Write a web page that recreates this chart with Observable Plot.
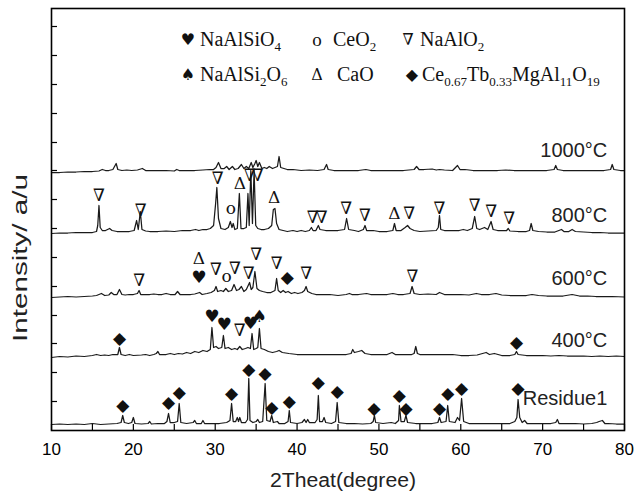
<!DOCTYPE html>
<html><head><meta charset="utf-8">
<script src="https://cdn.jsdelivr.net/npm/d3@7"></script>
<script src="https://cdn.jsdelivr.net/npm/@observablehq/plot@0.6"></script>
<style>body{margin:0;background:#fff}</style>
</head><body><div id="chart"></div>
<script>
// ---------- data (2θ in degrees, intensity above each trace's own baseline, a.u.) ----------
const seriesNames = ["Residue1", "400°C", "600°C", "800°C", "1000°C"];
const offsets = [5, 73, 133, 197, 258];          // vertical stacking offsets (a.u.)
const labelX = 77.9;
const labelH = [27, 17, 19, 18, 22];              // label heights above baseline

const residue = [[10,1],[11,1.5],[12,1],[13,1.5],[14,1],[15,2],[16,1],[17,1.5],[18,2],[18.5,3],[18.7,10],[18.9,3],[19.4,2],[19.8,3],[20.0,8],[20.2,2],[21,1.5],[21.8,2],[22.0,4],[22.2,1.5],[23,2],[23.8,2],[24.1,4],[24.3,12],[24.5,3],[25.0,3],[25.4,4],[25.6,22],[25.8,3],[26.5,2],[27.3,3],[27.5,5],[27.7,2],[28.3,2],[28.5,5],[28.7,2],[29.5,2],[30.5,2],[31.4,3],[31.8,5],[32.0,22],[32.2,4],[32.5,4],[32.7,8],[32.85,4],[33.0,8],[33.2,3],[33.7,3],[33.95,6],[34.1,47],[34.25,5],[34.6,3],[35.0,4],[35.2,6],[35.4,3],[35.8,4],[36.1,42],[36.3,5],[36.7,4],[36.9,10],[37.1,3],[37.6,4],[37.8,2],[38.5,2],[38.9,4],[39.05,15],[39.2,3],[40,2],[40.6,3],[40.9,6],[41.1,3],[41.3,6],[41.5,3],[42.2,3],[42.45,6],[42.6,30],[42.75,4],[43.1,4],[43.3,8],[43.5,3],[44.2,2],[44.7,4],[44.9,23],[45.1,3],[46,2],[47,2],[48,1.5],[49,2],[49.3,4],[49.45,10],[49.6,3],[50.5,2],[51.5,3],[52,2],[52.4,5],[52.5,20],[52.7,4],[53.1,4],[53.3,10],[53.5,3],[54.5,2],[55.5,2],[56.5,2],[57.2,3],[57.4,8],[57.6,3],[58.2,4],[58.4,20],[58.6,4],[59.3,3],[59.6,8],[59.85,5],[60.1,27],[60.35,4],[61,2],[62,2],[63,2],[64,2],[65,2],[66,2],[66.6,4],[66.85,8],[67.0,26],[67.2,8],[67.5,3],[67.8,5],[68.1,2],[69,2],[70,2],[71,2],[71.6,3],[71.8,6],[72.0,2],[73,2],[74,2],[75,1.5],[76,2],[76.6,3],[76.9,4],[77.3,5],[77.6,2],[78,2],[79,1.5],[80,1.5]];

const t400 = [[10,0],[11,1],[12,0.5],[13,1.5],[14,1],[15,2],[15.5,3],[16,2],[16.5,2.5],[17,2],[17.5,3],[18.1,3],[18.3,10],[18.5,3],[19,2],[19.5,3],[20,2],[21,2.5],[21.5,3],[22,2],[22.5,3],[22.8,4],[23.0,6],[23.2,3],[24,3],[24.5,4],[25,3],[25.5,4],[26,3.5],[26.5,5],[27,4],[27.5,6],[28,5],[28.5,7],[29,6],[29.4,8],[29.6,30],[29.8,10],[30.1,11],[30.4,9],[30.8,10],[31.0,22],[31.2,9],[31.6,10],[32,8],[32.4,9],[32.7,8],[33.0,11],[33.3,8],[33.7,9],[34.0,10],[34.3,9],[34.5,24],[34.7,8],[35.0,9],[35.2,10],[35.4,29],[35.6,9],[36,8],[36.5,6],[37,5],[37.5,6],[37.8,7],[38.2,5],[39,4],[40,3],[41,3],[42,3],[43,3],[44,3],[45,3],[46,3],[46.6,4],[46.8,8],[47.0,5],[47.5,6],[47.9,7],[48.3,4],[49,3],[50,3],[51,3],[51.6,5],[52,3],[53,3],[54,3],[54.3,4],[54.5,11],[54.7,4],[55,3],[56,3],[57,3],[58,3],[59,3],[60,2],[61,2],[62,2.5],[63.1,5],[63.5,3],[64.1,4],[65,2],[66,2],[66.6,3],[66.8,6],[67.0,3],[68,2],[69,2],[70,2],[71,1.5],[72,2],[73,1.5],[74,1.5],[75,1.5],[76,1],[77,1.5],[78,1],[79,1.5],[80,1]];

const t600 = [[10,0],[11,0.5],[12,1],[13,0.5],[14,1],[15,1.5],[15.5,2],[16.1,4],[16.5,2],[17,2.5],[17.3,5],[17.6,3],[18.0,3],[18.3,8],[18.6,3],[19,2.5],[19.5,3],[20,3],[20.5,4],[20.7,7],[20.9,3],[21.5,3],[22,3],[22.5,3.5],[23,3],[23.5,3],[24,4],[24.5,3],[25.1,3],[25.4,6],[25.7,3],[26,3],[26.5,3],[27,3],[27.5,3.5],[28.1,5],[28.4,3],[29,4],[29.5,5],[29.9,7],[30.1,11],[30.3,6],[30.7,7],[31.0,6],[31.3,9],[31.6,6],[32.0,7],[32.3,13],[32.6,7],[32.9,8],[33.2,11],[33.5,6],[33.8,8],[34.2,15],[34.4,8],[34.6,10],[34.85,26],[35.1,9],[35.4,7],[35.8,6],[36.3,5],[36.8,5],[37.3,7],[37.5,19],[37.7,7],[38.0,5],[38.3,7],[38.6,5],[38.9,6],[39.3,4],[39.7,5],[40.1,4],[40.6,5],[40.9,7],[41.1,11],[41.3,6],[41.8,4],[42.3,3],[43,3],[44,3],[45,2],[46,3],[46.4,4],[46.7,3],[47.5,3],[48.5,4],[49,3],[50,3],[51,3],[51.7,4],[52.3,3],[53,3],[53.8,4],[54.05,11],[54.3,4],[55,3],[56,3.5],[57,3],[57.4,5],[58,3],[59,3],[60,3],[61,2.5],[61.9,4],[62.5,3],[63.5,3],[64.3,4],[65,2.5],[66,2],[67,2],[68,2],[68.7,3],[69.5,2],[70.5,1.5],[71.5,1.5],[72.5,1.5],[73.6,3],[74.5,1.5],[75.5,1.5],[76.5,1],[77.5,1],[78.5,1],[80,0.5]];

const t800 = [[10,0],[11,0.5],[12,0.5],[13,1],[14,1],[15,1],[15.5,2],[15.65,8],[15.8,28],[15.95,6],[16.2,3],[16.6,3],[17.1,5],[17.4,3],[18,2],[19,2],[19.5,2],[20.1,3],[20.4,13],[20.6,4],[20.85,22],[21.05,4],[21.5,2.5],[22,2],[23,2],[24,2.5],[25,2],[26,3],[27,3],[27.6,4],[28,3],[28.5,4],[29,4],[29.4,5],[29.8,8],[30.05,30],[30.2,46],[30.4,15],[30.7,5],[31.2,4],[31.6,6],[31.85,12],[32.05,6],[32.2,10],[32.4,4],[32.7,5],[32.95,40],[33.15,5],[33.5,5],[33.8,6],[34.0,40],[34.15,8],[34.35,63],[34.55,10],[34.75,63],[34.95,8],[35.2,5],[35.6,4],[36,4],[36.5,5],[36.9,8],[37.1,24],[37.3,25],[37.5,10],[37.8,4],[38.3,3],[38.8,2],[39.5,3],[40,2],[40.5,3],[41,2],[41.5,3],[41.75,6],[41.95,3],[42.3,3],[42.6,8],[42.8,4],[43.5,3],[44,3],[45,3],[45.8,4],[46.05,15],[46.3,4],[47,3],[47.5,2],[48.1,4],[48.3,8],[48.5,3],[49.3,3],[50,2],[51,2],[51.7,3],[51.9,10],[52.1,3],[52.7,3],[53.2,6],[53.5,8],[53.8,5],[54.3,3],[55,2],[56,2.5],[57,3],[57.25,6],[57.4,18],[57.55,4],[58,3],[59,3],[59.8,3],[60.3,4],[60.8,3],[61.4,5],[61.7,17],[61.95,5],[62.3,4],[62.9,6],[63.3,4],[63.7,12],[63.95,4],[64.5,3],[65,3],[65.6,3],[65.8,5],[66,2.5],[67,2],[68,2],[68.4,3],[68.6,10],[68.8,3],[69.5,2],[70.5,1.5],[71.5,1.5],[72.3,4],[72.6,2],[73.2,2],[73.6,4],[74,2],[75,1.5],[76,1],[77,1],[78,0.5],[79,0.5],[80,0.5]];

const t1000 = [[10,0],[11,0],[12,0.5],[13,0.5],[14,1],[15,1],[15.8,1.5],[16.2,3],[16.6,2],[17,2],[17.5,3],[17.9,9],[18.1,3],[18.6,2],[19.2,2.5],[19.8,2],[20.5,2.5],[21.1,4],[21.5,2],[22,2],[23,2],[24,2],[25,1.5],[25.3,3],[25.6,2],[26.5,2],[27.5,2],[28.5,2.5],[29.3,3],[29.8,3],[30.1,5],[30.4,10],[30.7,4],[31.1,4],[31.4,6],[31.7,3],[32.1,6],[32.4,3],[32.8,4],[33.2,8],[33.5,4],[33.8,6],[34.1,4],[34.4,10],[34.6,5],[34.85,9],[35.0,12],[35.2,6],[35.4,10],[35.7,4],[36.0,5],[36.3,4],[36.6,6],[37.0,4],[37.3,5],[37.6,6],[37.8,16],[38.0,5],[38.4,4],[38.8,3],[39.5,3],[40.5,2],[41.5,2.5],[42.5,2],[43.3,3],[43.6,8],[43.8,3],[44.5,2],[45.5,2],[46.5,2],[47.5,2],[48.4,3],[49,2],[50,2],[51,2],[52,2],[53,2],[54.3,3],[54.6,6],[54.9,3],[55.5,3],[56.5,3.5],[57,2.5],[57.4,3],[58,2.5],[59,2],[59.6,7],[59.9,3],[60.5,3],[61.5,2],[62.5,2],[63.5,2],[64.5,2],[65.5,2.5],[66.5,2],[67.5,2],[68.5,2],[69.5,2],[70.5,2],[71.4,3],[71.6,7],[71.8,3],[72.5,2],[73.5,2],[74.5,2],[75.5,2],[76.5,2],[77.5,2],[78.3,3],[78.5,8],[78.7,3],[79.5,2],[80,2]];

const traces = [residue, t400, t600, t800, t1000];

// phase markers: [series index, 2θ, height above baseline, symbol]
const markers = [
 [0,18.7,20,"◆"],[0,24.3,23,"◆"],[0,25.6,33,"◆"],[0,32.0,32,"◆"],[0,34.1,56,"◆"],[0,36.1,52,"◆"],[0,36.9,18,"◆"],[0,39.05,24,"◆"],[0,42.6,43,"◆"],[0,44.9,34,"◆"],[0,49.4,17,"◆"],[0,52.5,30,"◆"],[0,53.3,17,"◆"],[0,57.4,17,"◆"],[0,58.4,32,"◆"],[0,60.1,37,"◆"],[0,67.0,37,"◆"],
 [1,18.3,19,"◆"],[1,29.6,41,"♥"],[1,31.1,33,"♥"],[1,33.0,27,"∇"],[1,34.3,34,"♥"],[1,35.4,41,"♠"],[1,66.8,15,"◆"],
 [2,20.7,17,"∇"],[2,28.0,39,"Δ"],[2,28.0,20,"♥"],[2,30.1,28,"∇"],[2,31.4,21,"o"],[2,32.4,29,"∇"],[2,34.1,24,"∇"],[2,35.0,43,"∇"],[2,37.5,34,"∇"],[2,38.8,20,"◆"],[2,41.1,24,"∇"],[2,54.1,21,"∇"],
 [3,15.8,38,"∇"],[3,20.9,23,"∇"],[3,30.3,55,"∇"],[3,31.9,25,"o"],[3,33.0,50,"Δ"],[3,34.2,58,"∇"],[3,35.2,58,"∇"],[3,37.2,36,"Δ"],[3,41.9,16,"∇"],[3,43.0,16,"∇"],[3,46.0,25,"∇"],[3,48.3,18,"∇"],[3,51.9,20,"Δ"],[3,53.7,20,"∇"],[3,57.4,25,"∇"],[3,61.7,28,"∇"],[3,63.7,22,"∇"],[3,65.9,15,"∇"]
];

// legend: symbol + formula segments ([text, isSubscript])
const legendSymbols = ["♥","o","∇","♠","Δ","◆"];
const legendFormulas = [
 [["NaAlSiO",0],["4",1]],
 [["CeO",0],["2",1]],
 [["NaAlO",0],["2",1]],
 [["NaAlSi",0],["2",1],["O",0],["6",1]],
 [["CaO",0]],
 [["Ce",0],["0.67",1],["Tb",0],["0.33",1],["MgAl",0],["11",1],["O",0],["19",1]]
];

const xTickValues = [10,15,20,25,30,35,40,45,50,55,60,65,70,75,80];
const xTickLabels = [10,20,30,40,50,60,70,80];
const yTickValues = [29,58,87,115,144,173,202,231,260,288,317,346,375,404];

const xLabel = "2Theat(degree)";
const yLabel = "Intensity/ a/u";

// ---------- build ----------
const rows = [];
traces.forEach((tr, i) => tr.forEach(([x, h]) => rows.push({series: seriesNames[i], x, y: h + offsets[i]})));
const markerRows = markers.map(([i, x, h, s]) => ({x, y: h + offsets[i], s}));
const labelRows = seriesNames.map((s, i) => ({s, x: labelX, y: labelH[i] + offsets[i]}));

const SANS = "'Liberation Sans', Arial, sans-serif";
const plot = Plot.plot({
  width: 635, height: 492,
  marginLeft: 51, marginRight: 11, marginTop: 8, marginBottom: 62,
  x: {domain: [10, 80], label: null},
  y: {domain: [0, 422], label: null},
  style: {fontFamily: SANS, fontSize: "17px", color: "#000", background: "#fff", overflow: "visible"},
  marks: [
    Plot.line(rows, {x: "x", y: "y", z: "series", stroke: "#1a1a1a", strokeWidth: 1.25}),
    Plot.text(markerRows, {x: "x", y: "y", text: "s", fontSize: 17, fontFamily: "'DejaVu Serif', serif", fill: "#111"}),
    Plot.text(labelRows, {x: "x", y: "y", text: "s", textAnchor: "end", fontSize: 20, fill: "#222"}),
    Plot.axisX({ticks: xTickValues, tickSize: -6, tickFormat: () => "", label: null, strokeWidth: 1.2}),
    Plot.axisX({ticks: xTickLabels, tickSize: 0, tickPadding: 12, label: null, fontSize: 17}),
    Plot.axisY({ticks: yTickValues, tickSize: -6, tickFormat: () => "", label: null, strokeWidth: 1.2}),
    Plot.frame({stroke: "#000", strokeWidth: 1.6})
  ]
});
document.getElementById("chart").appendChild(plot);

// ---------- titles & legend ----------
const svg = d3.select(plot);
svg.append("text").attr("transform", "translate(27,258) rotate(-90)").attr("text-anchor", "middle")
  .attr("font-size", 20).attr("font-family", SANS).attr("fill", "#222")
  .attr("textLength", 168).attr("lengthAdjust", "spacingAndGlyphs").text(yLabel);
svg.append("text").attr("x", 343).attr("y", 487).attr("text-anchor", "middle")
  .attr("font-size", 20).attr("font-family", SANS).attr("fill", "#222")
  .attr("textLength", 146).attr("lengthAdjust", "spacingAndGlyphs").text(xLabel);

const legendPos = [[188,200,46],[317,333,46],[408,420,46],[188,200,81],[317,337,81],[412,422,81]];
const lg = svg.append("g").attr("font-family", "'Liberation Serif', 'Times New Roman', serif").attr("fill", "#111");
legendSymbols.forEach((sym, i) => {
  const [sx, tx, by] = legendPos[i];
  lg.append("text").attr("x", sx).attr("y", by - (sym === "o" ? 0 : 1)).attr("text-anchor", "middle")
    .attr("font-size", sym === "o" ? 19 : 16).attr("font-family", sym === "o" ? null : "'DejaVu Serif', serif").text(sym);
  const t = lg.append("text").attr("x", tx).attr("y", by).attr("text-anchor", "start").attr("font-size", 20);
  legendFormulas[i].forEach(([str, sub]) => {
    t.append("tspan").attr("font-size", sub ? 13 : 20)
      .attr("baseline-shift", sub ? "-5" : null).text(str);
  });
});
</script>
</body></html>
